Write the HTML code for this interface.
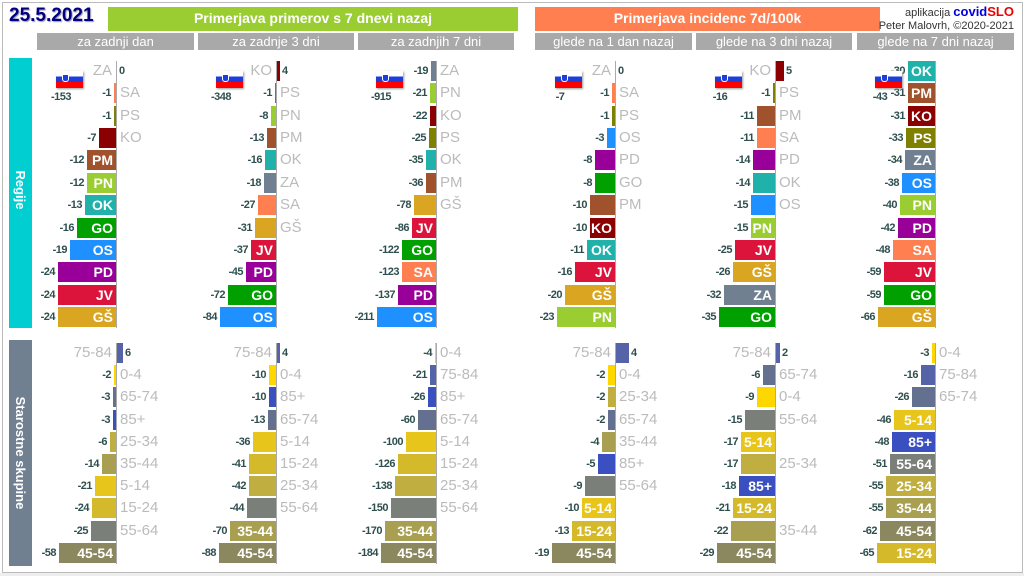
<!DOCTYPE html>
<html><head><meta charset="utf-8">
<style>
body{margin:0;width:1024px;height:576px;background:#fff;position:relative;overflow:hidden;font-family:"Liberation Sans",sans-serif}
div{position:absolute;box-sizing:border-box}
.hd{color:#fff;font-weight:bold;font-size:14px;text-align:center;line-height:23px;top:7px;height:24px}
.ch{background:#a9a9a9;color:#fff;font-size:13px;text-align:center;line-height:17px;top:33px;height:17px}
.v{font-size:11px;font-weight:bold;color:#2f4f4f;line-height:20px;white-space:nowrap;letter-spacing:-0.5px}
.g{font-size:15px;color:#bbb;line-height:20px;white-space:nowrap}
.in{color:#fff;font-weight:bold;font-size:14px;line-height:20px;text-align:right;padding-right:3px;white-space:nowrap;overflow:visible}
.ax{width:1px;background:#aaa}
.flag{width:27px;height:17px;box-shadow:1px 1px 2px #999;background:linear-gradient(#fff 0 33%,#1c3fd8 33% 66%,#f00 66%)}
.flag:after{content:"";position:absolute;left:6px;top:3px;width:5px;height:6px;background:#1c3fd8;border:1px solid #fff;border-radius:0 0 3px 3px}
</style></head><body>
<div style="left:2px;top:2px;width:1021px;height:571px;border:1px solid #bbb"></div>
<div style="left:0;top:573px;width:1024px;height:3px;background:#eee"></div>
<div style="left:9px;top:5px;font-size:19px;font-weight:bold;color:#000080;text-shadow:1px 1px 1px #99a">25.5.2021</div>
<div class="hd" style="left:108px;width:410px;background:#9acd32">Primerjava primerov s 7 dnevi nazaj</div>
<div class="hd" style="left:535px;width:345px;background:#ff7f50">Primerjava incidenc 7d/100k</div>
<div style="right:10px;top:4px;font-size:11px;color:#333;text-align:right;white-space:nowrap">aplikacija <b style="color:#0000dd;font-size:13px">covid</b><b style="color:#e00;font-size:13px">SLO</b></div>
<div style="right:10px;top:20px;font-size:11px;color:#333;white-space:nowrap">Peter Malovrh, ©2020-2021</div>
<div class="ch" style="left:37px;width:157px">za zadnji dan</div>
<div class="ch" style="left:198px;width:156px">za zadnje 3 dni</div>
<div class="ch" style="left:358px;width:156px">za zadnjih 7 dni</div>
<div class="ch" style="left:535px;width:157px">glede na 1 dan nazaj</div>
<div class="ch" style="left:696px;width:156px">glede na 3 dni nazaj</div>
<div class="ch" style="left:857px;width:157px">glede na 7 dni nazaj</div>
<div style="left:9px;top:58px;width:23px;height:270px;background:#00ced1"></div>
<div style="left:9px;top:340px;width:23px;height:226px;background:#708090"></div>
<div style="left:-40px;top:182px;width:120px;height:16px;transform:rotate(90deg);color:#fff;font-weight:bold;font-size:13px;text-align:center;line-height:16px">Regije</div>
<div style="left:-40px;top:445px;width:120px;height:16px;transform:rotate(90deg);color:#fff;font-weight:bold;font-size:13px;text-align:center;line-height:16px;white-space:nowrap">Starostne skupine</div>
<div id="c" style="left:0;top:0;width:1024px;height:576px"></div>
<script>
var C={ZA:'#708090',SA:'#ff7f50',PS:'#808000',KO:'#8b0000',PM:'#a0522d',PN:'#9acd32',OK:'#20b2aa',GO:'#00a000',OS:'#1e90ff',PD:'#990099',JV:'#dc143c','GŠ':'#daa520',
'75-84':'#5563a8','0-4':'#ffd700','65-74':'#637090','85+':'#3a50c0','25-34':'#c0ae40','35-44':'#a8a050','5-14':'#e8c51a','15-24':'#d4ba2a','55-64':'#7a7f7a','45-54':'#8b8860'};
function P(z,s,y0,dy,data,tot,min){
 var h='';var n=data.length;
 h+='<div class="ax" style="left:'+z+'px;top:'+(y0-10)+'px;height:'+(dy*(n-1)+21)+'px"></div>';
 data.forEach(function(d,i){
  var L=d[0],v=d[1],inn=d[2],y=y0+i*dy-10;var w=Math.abs(v)*s;if(min&&w<min)w=min;w=Math.round(w);
  if(v>=0){
   h+='<div style="left:'+(z+1)+'px;top:'+y+'px;width:'+w+'px;height:20px;background:'+C[L]+'"></div>';
   h+='<div class="v" style="left:'+(z+w+3)+'px;top:'+y+'px">'+v+'</div>';
   h+='<div class="g" style="right:'+(1024-z+4)+'px;top:'+y+'px">'+L+'</div>';
  }else{
   h+='<div '+(inn?'class="in" ':'')+'style="left:'+(z-w)+'px;top:'+y+'px;width:'+w+'px;height:20px;background:'+C[L]+'">'+(inn?L:'')+'</div>';
   h+='<div class="v" style="right:'+(1024-z+w+3)+'px;top:'+y+'px">'+v+'</div>';
   if(!inn)h+='<div class="g" style="left:'+(z+4)+'px;top:'+y+'px">'+L+'</div>';
  }
 });
 if(tot!==null){h+='<div class="flag" style="left:'+(z-60)+'px;top:71px"></div><div class="v" style="left:'+(z-70)+'px;width:30px;text-align:center;top:87px">'+tot+'</div>';}
 return h;
}
var R=71,RD=22.36,A=353,AD=22.2,o=0,I=1;
var h='';
h+=P(116,2.42,R,RD,[['ZA',0,o],['SA',-1,o],['PS',-1,o],['KO',-7,o],['PM',-12,I],['PN',-12,I],['OK',-13,I],['GO',-16,I],['OS',-19,I],['PD',-24,I],['JV',-24,I],['GŠ',-24,I]],-153);
h+=P(276,0.67,R,RD,[['KO',4,o],['PS',-1,o],['PN',-8,o],['PM',-13,o],['OK',-16,o],['ZA',-18,o],['SA',-27,o],['GŠ',-31,o],['JV',-37,I],['PD',-45,I],['GO',-72,I],['OS',-84,I]],-348);
h+=P(436,0.28,R,RD,[['ZA',-19,o],['PN',-21,o],['KO',-22,o],['PS',-25,o],['OK',-35,o],['PM',-36,o],['GŠ',-78,o],['JV',-86,I],['GO',-122,I],['SA',-123,I],['PD',-137,I],['OS',-211,I]],-915);
h+=P(615,2.52,R,RD,[['ZA',0,o],['SA',-1,o],['PS',-1,o],['OS',-3,o],['PD',-8,o],['GO',-8,o],['PM',-10,o],['KO',-10,I],['OK',-11,I],['JV',-16,I],['GŠ',-20,I],['PN',-23,I]],-7);
h+=P(775,1.6,R,RD,[['KO',5,o],['PS',-1,o],['PM',-11,o],['SA',-11,o],['PD',-14,o],['OK',-14,o],['OS',-15,o],['PN',-15,I],['JV',-25,I],['GŠ',-26,I],['ZA',-32,I],['GO',-35,I]],-16);
h+=P(935,0.87,R,RD,[['OK',-30,I],['PM',-31,I],['KO',-31,I],['PS',-33,I],['ZA',-34,I],['OS',-38,I],['PN',-40,I],['PD',-42,I],['SA',-48,I],['JV',-59,I],['GO',-59,I],['GŠ',-66,I]],-43,27);
h+=P(116,0.98,A,AD,[['75-84',6,o],['0-4',-2,o],['65-74',-3,o],['85+',-3,o],['25-34',-6,o],['35-44',-14,o],['5-14',-21,o],['15-24',-24,o],['55-64',-25,o],['45-54',-58,I]],null);
h+=P(276,0.65,A,AD,[['75-84',4,o],['0-4',-10,o],['85+',-10,o],['65-74',-13,o],['5-14',-36,o],['15-24',-41,o],['25-34',-42,o],['55-64',-44,o],['35-44',-70,I],['45-54',-88,I]],null);
h+=P(436,0.30,A,AD,[['0-4',-4,o],['75-84',-21,o],['85+',-26,o],['65-74',-60,o],['5-14',-100,o],['15-24',-126,o],['25-34',-138,o],['55-64',-150,o],['35-44',-170,I],['45-54',-184,I]],null);
h+=P(615,3.3,A,AD,[['75-84',4,o],['0-4',-2,o],['25-34',-2,o],['65-74',-2,o],['35-44',-4,o],['85+',-5,o],['55-64',-9,o],['5-14',-10,I],['15-24',-13,I],['45-54',-19,I]],null);
h+=P(775,2.0,A,AD,[['75-84',2,o],['65-74',-6,o],['0-4',-9,o],['55-64',-15,o],['5-14',-17,I],['25-34',-17,o],['85+',-18,I],['15-24',-21,I],['35-44',-22,o],['45-54',-29,I]],null);
h+=P(935,0.89,A,AD,[['0-4',-3,o],['75-84',-16,o],['65-74',-26,o],['5-14',-46,I],['85+',-48,I],['55-64',-51,I],['25-34',-55,I],['35-44',-55,I],['45-54',-62,I],['15-24',-65,I]],null);
document.getElementById('c').innerHTML=h;
</script>
</body></html>
